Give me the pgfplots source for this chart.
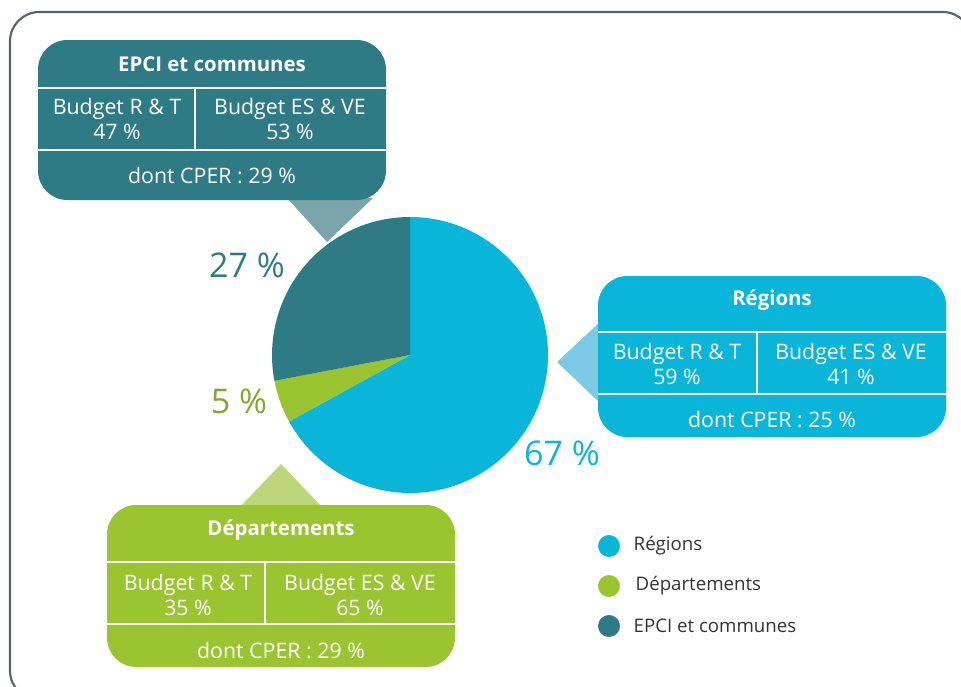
\documentclass[border=0pt]{standalone}
\usepackage{pgfplots}
\pgfplotsset{compat=1.18}
\usepackage{fontspec}
\setmainfont{Open Sans}
\definecolor{reg}{HTML}{0AB5DA}
\definecolor{dep}{HTML}{9BC431}
\definecolor{epci}{HTML}{2E7B85}
\definecolor{regL}{HTML}{7CCAE6}
\definecolor{depL}{HTML}{BDD67A}
\definecolor{epciL}{HTML}{7BA5AB}
\definecolor{framec}{HTML}{5B6170}
\definecolor{depT}{HTML}{7EA833}
\definecolor{legT}{HTML}{333333}
\begin{document}
\begin{tikzpicture}
% pie shares (percent)
\def\vReg{67}
\def\vDep{5}
\def\vEpci{28}
\def\R{103.5pt}
\pgfmathsetmacro\aA{90}
\pgfmathsetmacro\aB{90-3.6*\vReg}
\pgfmathsetmacro\aC{\aB-3.6*\vDep}
\pgfmathsetmacro\aD{\aC-3.6*\vEpci}
\begin{axis}[name=ax, at={(0,0)}, anchor=south west,
  axis lines=none, scale only axis, width=720.75pt, height=514.5pt,
  xmin=0, xmax=961, ymin=0, ymax=686, y dir=reverse, clip=false]
% frame
\draw[framec, line width=1.6pt, rounded corners=22pt] (axis cs:10,12) rectangle (axis cs:972,700);
% pie
\fill[reg] (axis cs:410,355) -- ++(\aA:\R) arc[start angle=\aA, end angle=\aB, radius=\R] -- cycle;
\fill[dep] (axis cs:410,355) -- ++(\aB:\R) arc[start angle=\aB, end angle=\aC, radius=\R] -- cycle;
\fill[epci] (axis cs:410,355) -- ++(\aC:\R) arc[start angle=\aC, end angle=\aD, radius=\R] -- cycle;
% percentage labels
\node[text=epci, font=\fontsize{25.5}{30}\selectfont] at (axis cs:247,265) {27 \%};
\node[text=depT, font=\fontsize{25.5}{30}\selectfont] at (axis cs:239,401) {5 \%};
\node[text=reg, font=\fontsize{25.5}{30}\selectfont] at (axis cs:562,453) {67 \%};
% ---------- EPCI callout
\fill[epciL] (axis cs:287,198) -- (axis cs:327,242) -- (axis cs:373,198) -- cycle;
\fill[epci, rounded corners=22pt] (axis cs:38,40) rectangle (axis cs:386,200);
\draw[white, line width=1.5pt] (axis cs:38,88) -- (axis cs:386,88);
\draw[white, line width=1.5pt] (axis cs:38,150) -- (axis cs:386,150);
\draw[white, line width=1.5pt] (axis cs:195,88) -- (axis cs:195,150);
\node[text=white, font=\bfseries\fontsize{15.3}{18}\selectfont] at (axis cs:212,64) {EPCI et communes};
\node[text=white, align=center, font=\fontsize{16}{18.75}\selectfont] at (axis cs:117,119) {Budget R \& T\\47 \%};
\node[text=white, align=center, font=\fontsize{16}{18.75}\selectfont] at (axis cs:290,119) {Budget ES \& VE\\53 \%};
\node[text=white, font=\fontsize{16}{19}\selectfont] at (axis cs:212,176) {dont CPER : 29 \%};
% ---------- Regions callout
\fill[regL] (axis cs:600,322) -- (axis cs:557,362) -- (axis cs:600,403) -- cycle;
\fill[reg, rounded corners=22pt] (axis cs:598,276) rectangle (axis cs:946,437);
\draw[white, line width=1.5pt] (axis cs:598,332) -- (axis cs:946,332);
\draw[white, line width=1.5pt] (axis cs:598,394) -- (axis cs:946,394);
\draw[white, line width=1.5pt] (axis cs:757,332) -- (axis cs:757,394);
\node[text=white, font=\bfseries\fontsize{15.3}{18}\selectfont] at (axis cs:772,300) {Régions};
\node[text=white, align=center, font=\fontsize{16}{18.75}\selectfont] at (axis cs:677,364) {Budget R \& T\\59 \%};
\node[text=white, align=center, font=\fontsize{16}{18.75}\selectfont] at (axis cs:851,364) {Budget ES \& VE\\41 \%};
\node[text=white, font=\fontsize{16}{19}\selectfont] at (axis cs:772,420) {dont CPER : 25 \%};
% ---------- Departements callout
\fill[depL] (axis cs:240,507) -- (axis cs:281,464) -- (axis cs:322,507) -- cycle;
\fill[dep, rounded corners=22pt] (axis cs:107,505) rectangle (axis cs:455,667);
\draw[white, line width=1.5pt] (axis cs:107,562) -- (axis cs:455,562);
\draw[white, line width=1.5pt] (axis cs:107,624) -- (axis cs:455,624);
\draw[white, line width=1.5pt] (axis cs:265,562) -- (axis cs:265,624);
\node[text=white, font=\bfseries\fontsize{15.3}{18}\selectfont] at (axis cs:281,530) {Départements};
\node[text=white, align=center, font=\fontsize{16}{18.75}\selectfont] at (axis cs:188,595) {Budget R \& T\\35 \%};
\node[text=white, align=center, font=\fontsize{16}{18.75}\selectfont] at (axis cs:360,595) {Budget ES \& VE\\65 \%};
\node[text=white, font=\fontsize{16}{19}\selectfont] at (axis cs:281,651) {dont CPER : 29 \%};
% ---------- legend
\addplot[only marks, mark=*, mark size=8pt, color=reg] coordinates {(609,546)};
\addplot[only marks, mark=*, mark size=8pt, color=dep] coordinates {(609,586)};
\addplot[only marks, mark=*, mark size=8pt, color=epci] coordinates {(609,626)};
\node[anchor=west, text=legT, font=\fontsize{14}{17}\selectfont] at (axis cs:629,546) {Régions};
\node[anchor=west, text=legT, font=\fontsize{14}{17}\selectfont] at (axis cs:631,586) {Départements};
\node[anchor=west, text=legT, font=\fontsize{14}{17}\selectfont] at (axis cs:629,626) {EPCI et communes};
\end{axis}
\pgfresetboundingbox
\useasboundingbox (ax.south west) rectangle (ax.north east);
\end{tikzpicture}
\end{document}
